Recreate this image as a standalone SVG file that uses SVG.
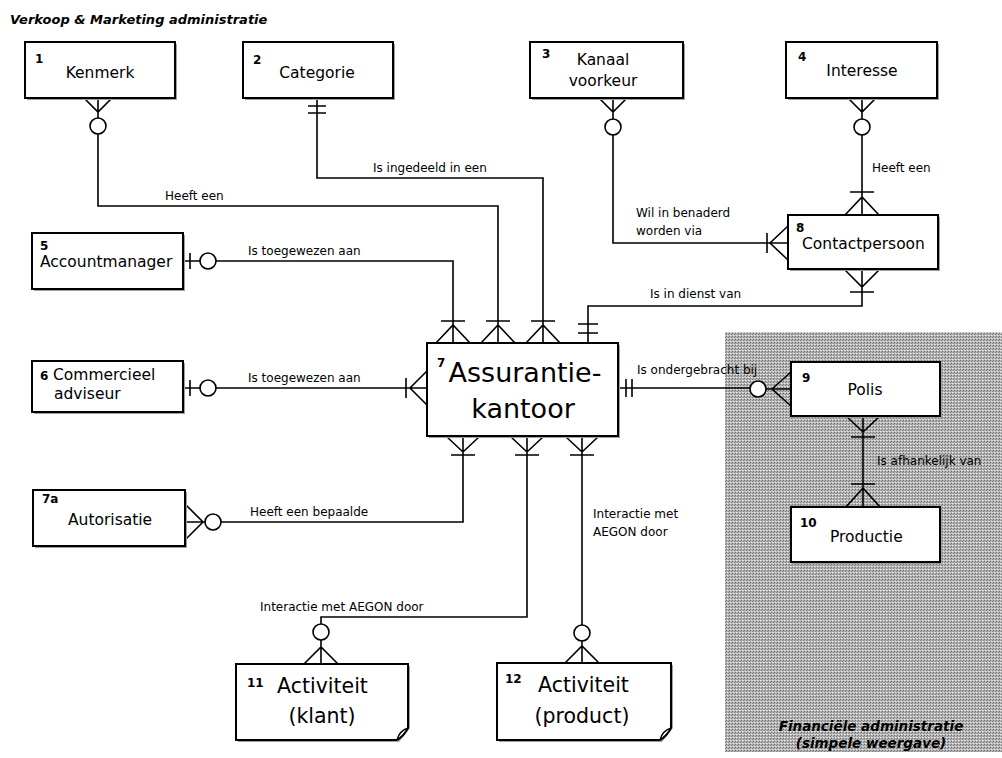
<svg xmlns="http://www.w3.org/2000/svg" width="1002" height="758" viewBox="0 0 1002 758">
<defs>
<pattern id="stip" width="3" height="3" patternUnits="userSpaceOnUse">
<rect width="3" height="3" fill="#b2b2b2"/>
<rect x="0" y="0" width="1" height="1" fill="#707070"/>
<rect x="2" y="1" width="1" height="1" fill="#808080"/>
<rect x="1" y="2" width="1" height="1" fill="#e6e6e6"/>
<rect x="2" y="2" width="1" height="1" fill="#d0d0d0"/>
</pattern>
<style>
.box{fill:#fff;stroke:#000;stroke-width:2}
.sh{fill:#a0a0a0}
.ln{fill:none;stroke:#000;stroke-width:1.6}
.ci{fill:#fff;stroke:#000;stroke-width:1.6}
.ci2{fill:none;stroke:#000;stroke-width:1.4}
.nm{font-family:"DejaVu Sans",Verdana,sans-serif;font-size:15.5px;fill:#000}
.big{font-family:"DejaVu Sans",Verdana,sans-serif;font-size:27px;fill:#000}
.act{font-family:"DejaVu Sans",Verdana,sans-serif;font-size:20.5px;fill:#000}
.no{font-family:"DejaVu Sans",Verdana,sans-serif;font-size:12px;font-weight:bold;fill:#000}
.lb{font-family:"DejaVu Sans",Verdana,sans-serif;font-size:12px;fill:#000}
.ttl{font-family:"DejaVu Sans",Verdana,sans-serif;font-size:13px;font-weight:bold;font-style:italic;fill:#000}
.ttl2{font-family:"DejaVu Sans",Verdana,sans-serif;font-size:13.5px;font-weight:bold;font-style:italic;fill:#000}
</style>
</defs>
<rect width="1002" height="758" fill="#fff"/>
<rect x="725" y="332" width="277" height="420" fill="url(#stip)"/>
<text class="ttl" x="10" y="24">Verkoop &amp; Marketing administratie</text>
<text class="ttl2" x="871" y="731" text-anchor="middle">Financiële administratie</text>
<text class="ttl2" x="871" y="748" text-anchor="middle">(simpele weergave)</text>

<g id="connectors">
<!-- 1 Kenmerk - 7 -->
<path class="ln" d="M98,98 V118 M98,134 V206 H498 V343 M84,98 L98,112 L112,98 M486,321 H510 M481,343 L498,325 L515,343"/>
<circle class="ci" cx="98" cy="126" r="8"/>
<text class="lb" x="165" y="200">Heeft een</text>
<!-- 2 Categorie - 7 -->
<path class="ln" d="M317,98 V178 H543 V343 M308,106 H326 M308,113 H326 M531,321 H555 M526,343 L543,325 L560,343"/>
<text class="lb" x="373" y="172">Is ingedeeld in een</text>
<!-- 3 Kanaal - 8 -->
<path class="ln" d="M613,98 V119 M613,135 V243 H788 M599,98 L613,112 L627,98 M767,233 V253 M788,226 L770,243 L788,260"/>
<circle class="ci" cx="613" cy="127" r="8"/>
<text class="lb" x="636" y="217">Wil in benaderd</text>
<text class="lb" x="636" y="235">worden via</text>
<!-- 4 Interesse - 8 -->
<path class="ln" d="M862,98 V119 M862,135 V215 M848,98 L862,112 L876,98 M850,192 H874 M845,215 L862,197 L879,215"/>
<circle class="ci" cx="862" cy="127" r="8"/>
<text class="lb" x="872" y="172">Heeft een</text>
<!-- 8 - 7 -->
<path class="ln" d="M862,270 V306 H588 V343 M845,270 L862,287 L879,270 M850,292 H874 M578,324 H598 M578,333 H598"/>
<text class="lb" x="650" y="298">Is in dienst van</text>
<!-- 5 - 7 -->
<path class="ln" d="M183,261 H200 M216,261 H453 V343 M190,253 V269 M441,321 H465 M436,343 L453,325 L470,343"/>
<circle class="ci" cx="208" cy="261" r="8"/>
<text class="lb" x="248" y="255">Is toegewezen aan</text>
<!-- 6 - 7 -->
<path class="ln" d="M183,388 H200 M216,388 H427 M190,380 V396 M406,378 V398 M427,371 L410,388 L427,405"/>
<circle class="ci" cx="208" cy="388" r="8"/>
<text class="lb" x="248" y="382">Is toegewezen aan</text>
<!-- 7a - 7 -->
<path class="ln" d="M185,522 H205 M221,522 H463 V436 M185,504 L203,522 L185,540 M446,436 L463,452 L480,436 M451,455 H475"/>
<circle class="ci" cx="213" cy="522" r="8"/>
<text class="lb" x="250" y="516">Heeft een bepaalde</text>
<!-- 7 - 11 -->
<path class="ln" d="M527,436 V617 H321 V624 M321,640 V664 M510,436 L527,452 L544,436 M515,455 H539 M304,664 L321,647 L338,664"/>
<circle class="ci" cx="321" cy="632" r="8"/>
<text class="lb" x="260" y="611">Interactie met AEGON door</text>
<!-- 7 - 12 -->
<path class="ln" d="M582,436 V625 M582,641 V663 M565,436 L582,452 L599,436 M570,455 H594 M565,663 L582,646 L599,663"/>
<circle class="ci" cx="582" cy="633" r="8"/>
<text class="lb" x="593" y="518">Interactie met</text>
<text class="lb" x="593" y="536">AEGON door</text>
<!-- 7 - 9 -->
<path class="ln" d="M618,388 H750 M766,389 H791 M626,379 V397 M632,379 V397 M791,372 L772,389 L791,406"/>
<circle class="ci" cx="758" cy="389" r="8"/>
<text class="lb" x="637" y="374">Is ondergebracht bij</text>
<!-- 9 - 10 -->
<path class="ln" d="M863,416 V507 M846,416 L863,432 L880,416 M851,437 H875 M851,484 H875 M846,507 L863,488 L880,507"/>
<text class="lb" x="877" y="465">Is afhankelijk van</text>
</g>

<g id="n1"><rect class="sh" x="27" y="44" width="150" height="56"/><rect class="box" x="25" y="42" width="150" height="56"/>
<text class="no" x="35" y="63">1</text><text class="nm" x="100" y="78" text-anchor="middle">Kenmerk</text></g>
<g id="n2"><rect class="sh" x="245" y="44" width="150" height="56"/><rect class="box" x="243" y="42" width="150" height="56"/>
<text class="no" x="253" y="64">2</text><text class="nm" x="317" y="78" text-anchor="middle">Categorie</text></g>
<g id="n3"><rect class="sh" x="532" y="44" width="153" height="56"/><rect class="box" x="530" y="42" width="153" height="56"/>
<text class="no" x="542" y="58">3</text><text class="nm" x="603" y="65" text-anchor="middle">Kanaal</text><text class="nm" x="603" y="86" text-anchor="middle">voorkeur</text></g>
<g id="n4"><rect class="sh" x="788" y="44" width="151" height="56"/><rect class="box" x="786" y="42" width="151" height="56"/>
<text class="no" x="798" y="61">4</text><text class="nm" x="862" y="76" text-anchor="middle">Interesse</text></g>
<g id="n5"><rect class="sh" x="34" y="235" width="151" height="56"/><rect class="box" x="32" y="233" width="151" height="56"/>
<text class="no" x="40" y="250">5</text><text class="nm" x="40" y="267">Accountmanager</text></g>
<g id="n6"><rect class="sh" x="34" y="363" width="151" height="51"/><rect class="box" x="32" y="361" width="151" height="51"/>
<text class="no" x="40" y="380">6</text><text class="nm" x="53" y="380">Commercieel</text><text class="nm" x="54" y="399">adviseur</text></g>
<g id="n7a"><rect class="sh" x="35" y="492" width="152" height="56"/><rect class="box" x="33" y="490" width="152" height="56"/>
<text class="no" x="42" y="503">7a</text><text class="nm" x="68" y="525">Autorisatie</text></g>
<g id="n7"><rect class="sh" x="429" y="345" width="191" height="93"/><rect class="box" x="427" y="343" width="191" height="93"/>
<text class="no" x="437" y="367">7</text><text class="big" x="525" y="382" text-anchor="middle">Assurantie-</text><text class="big" x="523" y="418" text-anchor="middle">kantoor</text></g>
<g id="n8"><rect class="sh" x="790" y="217" width="150" height="54"/><rect class="box" x="788" y="215" width="150" height="54"/>
<text class="no" x="796" y="232">8</text><text class="nm" x="802" y="249">Contactpersoon</text></g>
<g id="n9"><rect class="sh" x="793" y="364" width="149" height="54"/><rect class="box" x="791" y="362" width="149" height="54"/>
<text class="no" x="802" y="382">9</text><text class="nm" x="865" y="395" text-anchor="middle">Polis</text></g>
<g id="n10"><rect class="sh" x="793" y="509" width="149" height="55"/><rect class="box" x="791" y="507" width="149" height="55"/>
<text class="no" x="800" y="527">10</text><text class="nm" x="830" y="542">Productie</text></g>
<g id="n11"><path class="sh" d="M238,666 H410 V728 L399,742 H238 Z"/><path class="box" d="M236,664 H408 V728 Q404,736 397,740 H236 Z"/><path class="ci2" d="M397,740 Q399,731 408,728"/>
<text class="no" x="247" y="687">11</text><text class="act" x="277" y="693">Activiteit</text><text class="act" x="322" y="723" text-anchor="middle">(klant)</text></g>
<g id="n12"><path class="sh" d="M499,665 H673 V728 L662,742 H499 Z"/><path class="box" d="M497,663 H671 V728 Q667,736 660,740 H497 Z"/><path class="ci2" d="M660,740 Q662,731 671,728"/>
<text class="no" x="505" y="683">12</text><text class="act" x="538" y="692">Activiteit</text><text class="act" x="582" y="723" text-anchor="middle">(product)</text></g>
</svg>
